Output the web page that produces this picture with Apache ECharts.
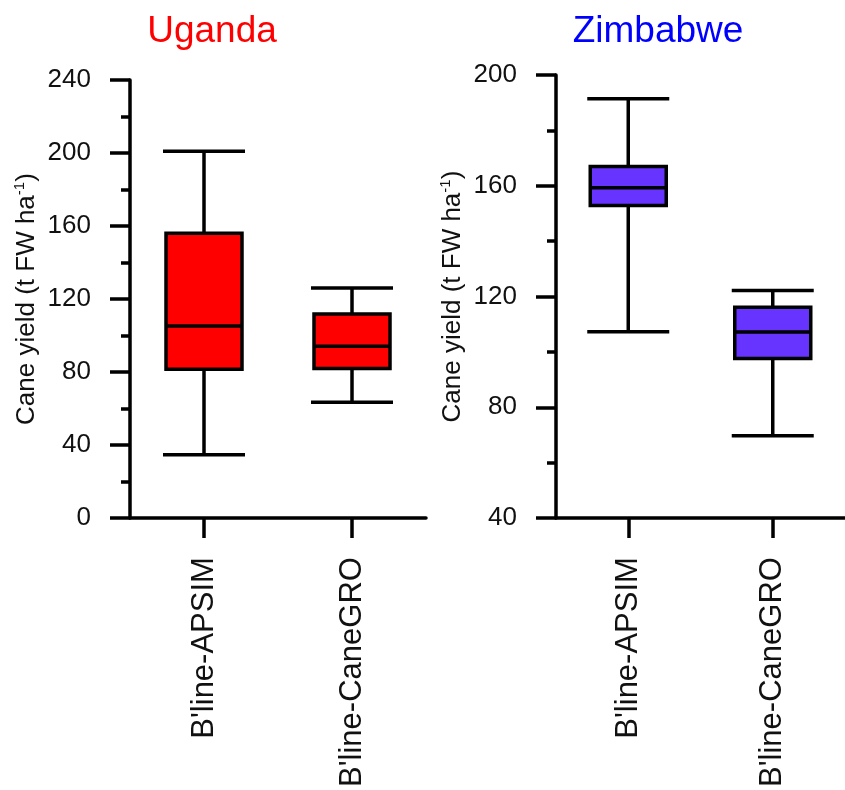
<!DOCTYPE html>
<html>
<head>
<meta charset="utf-8">
<title>Cane yield</title>
<script src="https://cdn.jsdelivr.net/npm/echarts@6/dist/echarts.min.js"></script>
<style>
  html, body { margin: 0; padding: 0; background: #ffffff; }
  #chart { width: 845px; height: 790px; }
</style>
</head>
<body>
<div id="chart"></div>
<script>
// Categories shared by both panels
const categories = ["B'line-APSIM", "B'line-CaneGRO"];

// Uganda: whisker ends, quartiles and medians (t FW/ha)
const ugandaMin    = [34.7, 63.4];
const ugandaQ1     = [81.6, 82.0];
const ugandaMedian = [105.3, 94.1];
const ugandaQ3     = [156.0, 111.8];
const ugandaMax    = [201.0, 126.0];

// Zimbabwe: whisker ends, quartiles and medians (t FW/ha)
const zimMin    = [107.3, 69.7];
const zimQ1     = [152.9, 97.6];
const zimMedian = [159.3, 107.2];
const zimQ3     = [167.0, 116.1];
const zimMax    = [191.4, 122.2];

// Axis tick values
const ugandaTicks = [0, 40, 80, 120, 160, 200, 240];
const zimTicks = [40, 80, 120, 160, 200];

const FONT = "'Liberation Sans', Arial, Helvetica, sans-serif";
const LW = 3.5;

function rows(mins, q1s, meds, q3s, maxs) {
  return categories.map((c, i) => [i, mins[i], q1s[i], meds[i], q3s[i], maxs[i]]);
}

// Box-and-whisker glyph drawn through the cartesian scales
function makeRenderer(fill) {
  return function (params, api) {
    const x = api.value(0);
    const pMin = api.coord([x, api.value(1)]);
    const pQ1 = api.coord([x, api.value(2)]);
    const pMed = api.coord([x, api.value(3)]);
    const pQ3 = api.coord([x, api.value(4)]);
    const pMax = api.coord([x, api.value(5)]);
    const cx = pMin[0];
    const bw = 76, cw = 82;
    const line = { stroke: '#000', lineWidth: LW };
    return {
      type: 'group',
      children: [
        { type: 'line', shape: { x1: cx, y1: pMax[1], x2: cx, y2: pQ3[1] }, style: line },
        { type: 'line', shape: { x1: cx, y1: pQ1[1], x2: cx, y2: pMin[1] }, style: line },
        { type: 'line', shape: { x1: cx - cw / 2, y1: pMax[1], x2: cx + cw / 2, y2: pMax[1] }, style: line },
        { type: 'line', shape: { x1: cx - cw / 2, y1: pMin[1], x2: cx + cw / 2, y2: pMin[1] }, style: line },
        { type: 'rect', shape: { x: cx - bw / 2, y: pQ3[1], width: bw, height: pQ1[1] - pQ3[1] },
          style: { fill: fill, stroke: '#000', lineWidth: LW } },
        { type: 'line', shape: { x1: cx - bw / 2, y1: pMed[1], x2: cx + bw / 2, y2: pMed[1] }, style: line }
      ]
    };
  };
}

function yAxis(gridIndex, ticks) {
  return {
    type: 'value',
    gridIndex: gridIndex,
    min: ticks[0],
    max: ticks[ticks.length - 1],
    interval: ticks[1] - ticks[0],
    name: '{a|Cane yield (t FW ha}{s|-1}{a|)}',
    nameLocation: 'middle',
    nameRotate: 90,
    nameGap: 88,
    nameTextStyle: {
      fontFamily: FONT,
      color: '#111',
      rich: {
        a: { fontFamily: FONT, fontSize: 26, color: '#111', lineHeight: 30 },
        s: { fontFamily: FONT, fontSize: 15, color: '#111', verticalAlign: 'top', lineHeight: 30 }
      }
    },
    axisLine: { show: true, lineStyle: { color: '#000', width: LW } },
    axisTick: { show: true, inside: false, length: 20, lineStyle: { color: '#000', width: LW } },
    minorTick: { show: true, splitNumber: 2, length: 9, lineStyle: { color: '#000', width: LW } },
    axisLabel: { fontFamily: FONT, fontSize: 26, color: '#111', margin: 39 },
    splitLine: { show: false },
    minorSplitLine: { show: false }
  };
}

function xAxis(gridIndex) {
  return {
    type: 'category',
    gridIndex: gridIndex,
    data: categories,
    boundaryGap: true,
    axisLine: { show: true, lineStyle: { color: '#000', width: LW } },
    axisTick: { show: true, alignWithLabel: true, length: 20, lineStyle: { color: '#000', width: LW } },
    axisLabel: { fontFamily: FONT, fontSize: 31, color: '#111', rotate: 90, margin: 39, interval: 0 },
    splitLine: { show: false }
  };
}

const chart = echarts.init(document.getElementById('chart'), null, { renderer: 'canvas' });

chart.setOption({
  backgroundColor: '#ffffff',
  animation: false,
  title: [
    { text: 'Uganda', left: 207, top: 8, textAlign: 'center',
      textStyle: { fontFamily: FONT, fontSize: 37, fontWeight: 'normal', color: '#ff0000' } },
    { text: 'Zimbabwe', left: 653, top: 8, textAlign: 'center',
      textStyle: { fontFamily: FONT, fontSize: 37, fontWeight: 'normal', color: '#0000ff' } }
  ],
  grid: [
    { left: 130, top: 80, width: 296, height: 443 },
    { left: 556, top: 75, width: 300, height: 447 }
  ],
  xAxis: [xAxis(0), xAxis(1)],
  yAxis: [yAxis(0, ugandaTicks), yAxis(1, zimTicks)],
  series: [
    {
      name: 'Uganda',
      type: 'custom',
      xAxisIndex: 0,
      yAxisIndex: 0,
      clip: false,
      encode: { x: 0, y: [1, 2, 3, 4, 5] },
      renderItem: makeRenderer('#ff0000'),
      data: rows(ugandaMin, ugandaQ1, ugandaMedian, ugandaQ3, ugandaMax)
    },
    {
      name: 'Zimbabwe',
      type: 'custom',
      xAxisIndex: 1,
      yAxisIndex: 1,
      clip: false,
      encode: { x: 0, y: [1, 2, 3, 4, 5] },
      renderItem: makeRenderer('#6633ff'),
      data: rows(zimMin, zimQ1, zimMedian, zimQ3, zimMax)
    }
  ]
});
</script>
</body>
</html>
